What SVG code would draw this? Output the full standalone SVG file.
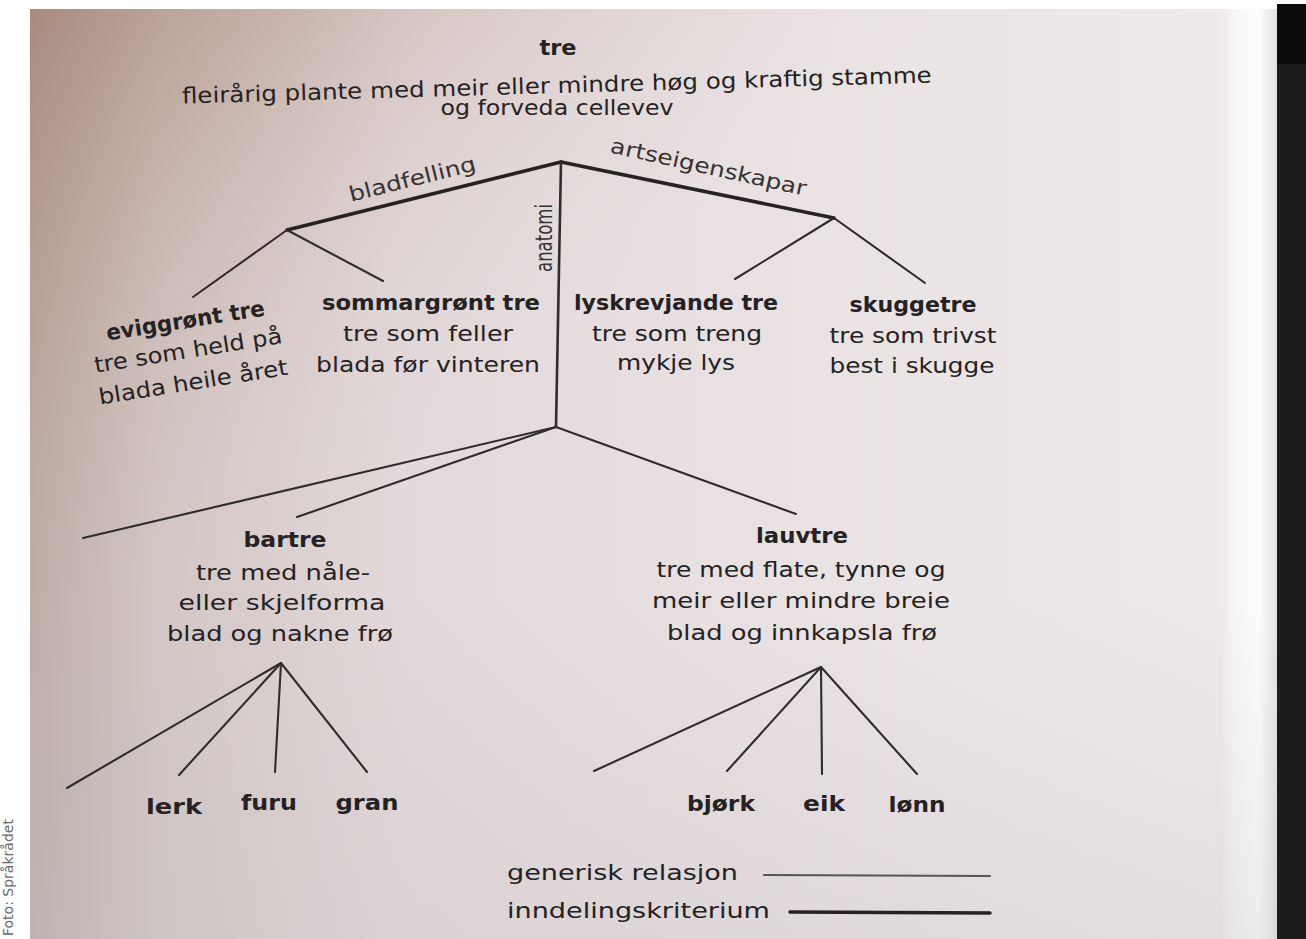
<svg xmlns="http://www.w3.org/2000/svg" width="1306" height="939" viewBox="0 0 1306 939">
  <defs>
    <linearGradient id="pageH" x1="30" y1="0" x2="1277" y2="0" gradientUnits="userSpaceOnUse">
      <stop offset="0" stop-color="#bcaca6"/>
      <stop offset="0.1" stop-color="#d2c6c3"/>
      <stop offset="0.3" stop-color="#e3d9da"/>
      <stop offset="0.7" stop-color="#ebe4e5"/>
      <stop offset="0.955" stop-color="#eee9ea"/>
      <stop offset="0.965" stop-color="#f7f5f6"/>
      <stop offset="0.985" stop-color="#fdfdfd"/>
      <stop offset="1" stop-color="#e2e2e4"/>
    </linearGradient>
    <linearGradient id="brownTint" x1="30" y1="9" x2="430" y2="470" gradientUnits="userSpaceOnUse">
      <stop offset="0" stop-color="#9a7564" stop-opacity="0.6"/>
      <stop offset="0.45" stop-color="#b08c7c" stop-opacity="0.22"/>
      <stop offset="1" stop-color="#e8dede" stop-opacity="0"/>
    </linearGradient>
    <linearGradient id="bottomGrey" x1="0" y1="600" x2="0" y2="939" gradientUnits="userSpaceOnUse">
      <stop offset="0" stop-color="#c8c2c6" stop-opacity="0"/>
      <stop offset="1" stop-color="#c8c2c6" stop-opacity="0.3"/>
    </linearGradient>
    <style>
      text { font-family: "DejaVu Sans", "Liberation Sans", sans-serif; fill: #242222; }
      .t { font-size: 22px; text-anchor: middle; }
      .b { font-size: 22px; font-weight: bold; text-anchor: middle; }
      .lab { font-size: 21px; text-anchor: middle; fill: #363232; }
      .thick { stroke: #262222; stroke-width: 3.5; fill: none; stroke-linecap: round; }
      .thin { stroke: #302c2c; stroke-width: 2.1; fill: none; stroke-linecap: round; }
      .credit { font-family: "DejaVu Sans", sans-serif; font-size: 14px; fill: #6a6a6a; }
    </style>
  </defs>

  <!-- background / photo framing -->
  <rect x="0" y="0" width="1306" height="939" fill="#ffffff"/>
  <rect x="1277" y="4" width="29" height="935" fill="#1c1c1e"/>
  <rect x="1277" y="4" width="29" height="60" fill="#0c0c0c"/>
  <rect x="30" y="9" width="1247" height="930" fill="url(#pageH)"/>
  <rect x="30" y="9" width="1247" height="930" fill="url(#brownTint)"/>
  <rect x="30" y="600" width="1247" height="339" fill="url(#bottomGrey)"/>
  <text class="credit" transform="translate(13,936) rotate(-90)">Foto: Språkrådet</text>

  <!-- connectors -->
  <g id="connectors">
    <line class="thick" x1="561" y1="162" x2="287" y2="230"/>
    <line class="thick" x1="561" y1="162" x2="834" y2="218"/>
    <line class="thin" x1="561" y1="162" x2="556" y2="427" style="stroke-width:2.6"/>
    <line class="thin" x1="287" y1="230" x2="193" y2="297"/>
    <line class="thin" x1="287" y1="230" x2="383" y2="281"/>
    <line class="thin" x1="834" y1="218" x2="735" y2="279"/>
    <line class="thin" x1="834" y1="218" x2="925" y2="283"/>
    <line class="thin" x1="556" y1="427" x2="83" y2="538"/>
    <line class="thin" x1="556" y1="427" x2="297" y2="517"/>
    <line class="thin" x1="556" y1="427" x2="796" y2="514"/>
    <line class="thin" x1="281" y1="663" x2="67" y2="788"/>
    <line class="thin" x1="281" y1="663" x2="179" y2="775"/>
    <line class="thin" x1="281" y1="663" x2="275" y2="772"/>
    <line class="thin" x1="281" y1="663" x2="367" y2="772"/>
    <line class="thin" x1="821" y1="667" x2="594" y2="771"/>
    <line class="thin" x1="821" y1="667" x2="727" y2="771"/>
    <line class="thin" x1="821" y1="667" x2="822" y2="774"/>
    <line class="thin" x1="821" y1="667" x2="917" y2="774"/>
  </g>

  <!-- criterion labels -->
  <g id="criteria">
    <text class="lab" transform="translate(414,186) rotate(-14)" textLength="130" lengthAdjust="spacingAndGlyphs">bladfelling</text>
    <text class="lab" transform="translate(707,174) rotate(12.5)" textLength="200" lengthAdjust="spacingAndGlyphs">artseigenskapar</text>
    <text class="lab" transform="translate(552,238) rotate(-90)" textLength="68" lengthAdjust="spacingAndGlyphs" style="font-size:23px">anatomi</text>
  </g>

  <g id="node-tre">
    <text class="b" x="558" y="55" textLength="37" lengthAdjust="spacingAndGlyphs">tre</text>
    <text class="t" transform="translate(557,93) rotate(-1.6)" textLength="750" lengthAdjust="spacingAndGlyphs">fleirårig plante med meir eller mindre høg og kraftig stamme</text>
    <text class="t" x="557" y="115" textLength="233" lengthAdjust="spacingAndGlyphs">og forveda cellevev</text>
  </g>

  <g id="node-eviggront">
    <g transform="rotate(-9 188 350)">
      <text class="b" x="190" y="328" textLength="160" lengthAdjust="spacingAndGlyphs">eviggrønt tre</text>
      <text class="t" x="188" y="358" textLength="190" lengthAdjust="spacingAndGlyphs">tre som held på</text>
      <text class="t" x="188" y="390" textLength="191" lengthAdjust="spacingAndGlyphs">blada heile året</text>
    </g>
  </g>

  <g id="node-sommargront">
    <text class="b" x="431" y="310" textLength="218" lengthAdjust="spacingAndGlyphs">sommargrønt tre</text>
    <text class="t" x="428" y="341" textLength="170" lengthAdjust="spacingAndGlyphs">tre som feller</text>
    <text class="t" x="428" y="372" textLength="224" lengthAdjust="spacingAndGlyphs">blada før vinteren</text>
  </g>

  <g id="node-lyskrevjande">
    <text class="b" x="676" y="310" textLength="204" lengthAdjust="spacingAndGlyphs">lyskrevjande tre</text>
    <text class="t" x="677" y="341" textLength="170" lengthAdjust="spacingAndGlyphs">tre som treng</text>
    <text class="t" x="676" y="370" textLength="118" lengthAdjust="spacingAndGlyphs">mykje lys</text>
  </g>

  <g id="node-skuggetre">
    <text class="b" x="913" y="312" textLength="127" lengthAdjust="spacingAndGlyphs">skuggetre</text>
    <text class="t" x="913" y="343" textLength="167" lengthAdjust="spacingAndGlyphs">tre som trivst</text>
    <text class="t" x="912" y="373" textLength="165" lengthAdjust="spacingAndGlyphs">best i skugge</text>
  </g>

  <g id="node-bartre">
    <text class="b" x="285" y="547" textLength="83" lengthAdjust="spacingAndGlyphs">bartre</text>
    <text class="t" x="283" y="580" textLength="174" lengthAdjust="spacingAndGlyphs">tre med nåle-</text>
    <text class="t" x="282" y="610" textLength="207" lengthAdjust="spacingAndGlyphs">eller skjelforma</text>
    <text class="t" x="280" y="641" textLength="226" lengthAdjust="spacingAndGlyphs">blad og nakne frø</text>
  </g>

  <g id="node-lauvtre">
    <text class="b" x="802" y="543" textLength="92" lengthAdjust="spacingAndGlyphs">lauvtre</text>
    <text class="t" x="801" y="577" textLength="289" lengthAdjust="spacingAndGlyphs">tre med flate, tynne og</text>
    <text class="t" x="801" y="608" textLength="298" lengthAdjust="spacingAndGlyphs">meir eller mindre breie</text>
    <text class="t" x="802" y="640" textLength="270" lengthAdjust="spacingAndGlyphs">blad og innkapsla frø</text>
  </g>

  <g id="node-lerk"><text class="b" x="174" y="814" textLength="56" lengthAdjust="spacingAndGlyphs">lerk</text></g>
  <g id="node-furu"><text class="b" x="269" y="810" textLength="56" lengthAdjust="spacingAndGlyphs">furu</text></g>
  <g id="node-gran"><text class="b" x="367" y="810" textLength="63" lengthAdjust="spacingAndGlyphs">gran</text></g>
  <g id="node-bjork"><text class="b" x="721" y="811" textLength="68" lengthAdjust="spacingAndGlyphs">bjørk</text></g>
  <g id="node-eik"><text class="b" x="824" y="811" textLength="42" lengthAdjust="spacingAndGlyphs">eik</text></g>
  <g id="node-lonn"><text class="b" x="917" y="812" textLength="57" lengthAdjust="spacingAndGlyphs">lønn</text></g>

  <g id="legend">
    <text class="t" x="507" y="880" style="text-anchor:start" textLength="231" lengthAdjust="spacingAndGlyphs">generisk relasjon</text>
    <line class="thin" x1="764" y1="875" x2="990" y2="876" style="stroke:#555"/>
    <text class="t" x="507" y="918" style="text-anchor:start" textLength="263" lengthAdjust="spacingAndGlyphs">inndelingskriterium</text>
    <line class="thick" x1="790" y1="912" x2="990" y2="913"/>
  </g>
</svg>
